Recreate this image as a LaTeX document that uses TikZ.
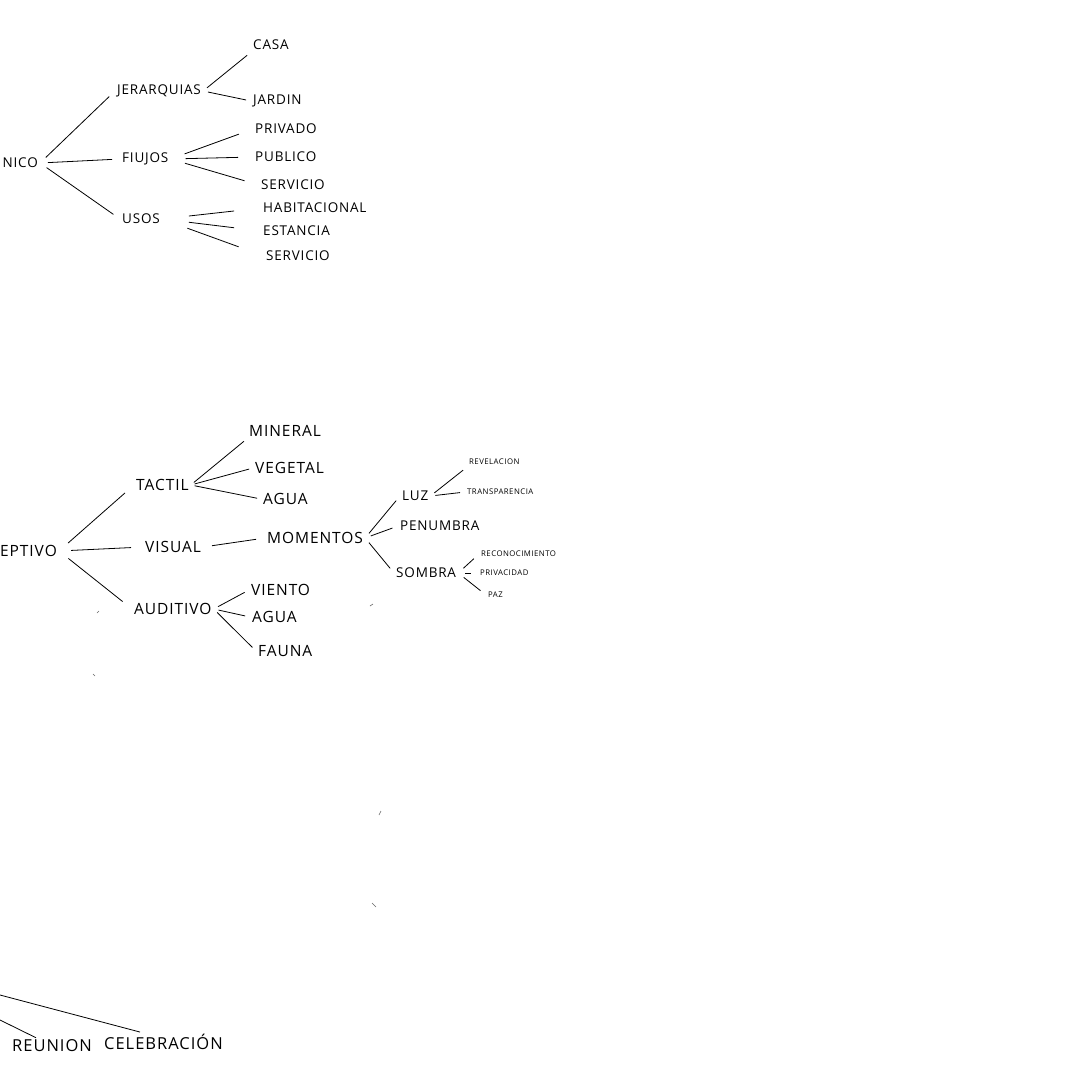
\documentclass[tikz,border=0pt]{standalone}
\usepackage{fontspec}
\setmainfont{Open Sans}[LetterSpace=6]
\tikzset{
  lbl/.style={anchor=west,inner sep=2pt,font=\fontsize{13.5}{15}\selectfont},
  big/.style={lbl,font=\fontsize{15.5}{17}\selectfont},
  tiny/.style={lbl,font=\fontsize{7.8}{9}\selectfont},
  link/.style={line width=0.8pt,shorten <=#1,shorten >=#1},
  link/.default=6pt,
  speck/.style={line width=0.6pt,black!60}
}
\begin{document}
\begin{tikzpicture}[x=1pt,y=-1pt]
  \useasboundingbox (0,0) rectangle (1080,1080);
  \clip (0,0) rectangle (1080,1080);
  % tree one
  \node[lbl,anchor=east] (nico) at (40,163) {NICO};
  \node[lbl] (jer) at (115,91) {JERARQUIAS};
  \node[lbl] (fiu) at (120,159) {FIUJOS};
  \node[lbl] (usos) at (120,219) {USOS};
  \node[lbl] (casa) at (251,45) {CASA};
  \node[lbl] (jard) at (251,101) {JARDIN};
  \node[lbl] (priv) at (253,129) {PRIVADO};
  \node[lbl] (publ) at (253,157) {PUBLICO};
  \node[lbl] (serv) at (259,185) {SERVICIO};
  \node[lbl] (habi) at (261,208) {HABITACIONAL};
  \node[lbl] (esta) at (261,231) {ESTANCIA};
  \node[lbl] (serw) at (264,256) {SERVICIO};
  \draw[link=8pt] (nico.east) -- (jer.west);
  \draw[link=8pt] (nico.east) -- (fiu.west);
  \draw[link=8pt] (nico.east) -- (usos.west);
  \draw[link=5pt] (jer.east) -- (casa.south west);
  \draw[link=5pt] (jer.east) -- (jard.west);
  \draw[link=15pt] (fiu.east) -- (priv.west);
  \draw[link=15pt] (fiu.east) -- (publ.west);
  \draw[link=15pt] (fiu.east) -- (serv.west);
  \draw[link=27pt] (usos.east) -- (habi.west);
  \draw[link=27pt] (usos.east) -- (esta.west);
  \draw[link=27pt] (usos.east) -- (serw.west);
  % tree two
  \node[big] (epti) at (-2,551) {EPTIVO};
  \node[big] (tact) at (134,485) {TACTIL};
  \node[big] (visu) at (143,547) {VISUAL};
  \node[big] (audi) at (132,609) {AUDITIVO};
  \node[big] (mine) at (247,431) {MINERAL};
  \node[big] (vege) at (253,468) {VEGETAL};
  \node[big] (agua) at (261,499) {AGUA};
  \node[big] (mome) at (265,538) {MOMENTOS};
  \node[lbl] (luz) at (400,496) {LUZ};
  \node[lbl] (penu) at (398,526) {PENUMBRA};
  \node[lbl] (somb) at (394,573) {SOMBRA};
  \node[tiny] (reve) at (467,462) {REVELACION};
  \node[tiny] (tran) at (465,492) {TRANSPARENCIA};
  \node[tiny] (reco) at (479,554) {RECONOCIMIENTO};
  \node[tiny] (prid) at (478,573) {PRIVACIDAD};
  \node[tiny] (paz) at (486,595) {PAZ};
  \node[big] (vien) at (249,590) {VIENTO};
  \node[big] (agub) at (250,617) {AGUA};
  \node[big] (faun) at (256,651) {FAUNA};
  \draw[link=12pt] (epti.east) -- (tact.west);
  \draw[link=12pt] (epti.east) -- (visu.west);
  \draw[link=12pt] (epti.east) -- (audi.west);
  \draw[link=4pt] (tact.east) -- (mine.south west);
  \draw[link=4pt] (tact.east) -- (vege.west);
  \draw[link=4pt] (tact.east) -- (agua.west);
  \draw[link=9pt] (visu.east) -- (mome.west);
  \draw[link=6pt] (mome.east) -- (luz.west);
  \draw[link=6pt] (mome.east) -- (penu.west);
  \draw[link=6pt] (mome.east) -- (somb.west);
  \draw[link=5pt] (luz.east) -- (reve.south west);
  \draw[link=5pt] (luz.east) -- (tran.west);
  \draw[link=7pt] (somb.east) -- (reco.west);
  \draw[link=7pt] (somb.east) -- (prid.west);
  \draw[link=7pt] (somb.east) -- (paz.west);
  \draw[link=5pt] (audi.east) -- (vien.west);
  \draw[link=5pt] (audi.east) -- (agub.west);
  \draw[link=5pt] (audi.east) -- (faun.west);
  % tree three
  \coordinate (top) at (0,995);
  \coordinate (low) at (0,1020);
  \node[big,font=\fontsize{16.5}{18}\selectfont] (reun) at (10,1046) {REUNION};
  \node[big,font=\fontsize{16.5}{18}\selectfont] (cele) at (102,1042) {CELEBRACIÓN};
  \draw[line width=0.8pt] (top) -- ([xshift=38]cele.north west);
  \draw[line width=0.8pt] (low) -- ([xshift=26]reun.north west);
  % specks
  \draw[speck] (97,613) -- (99,611);
  \draw[speck] (93,674) -- (95,676);
  \draw[speck] (370,606) -- (373,604);
  \draw[speck] (379,815) -- (381,811);
  \draw[speck] (372,903) -- (376,907);
\end{tikzpicture}
\end{document}
